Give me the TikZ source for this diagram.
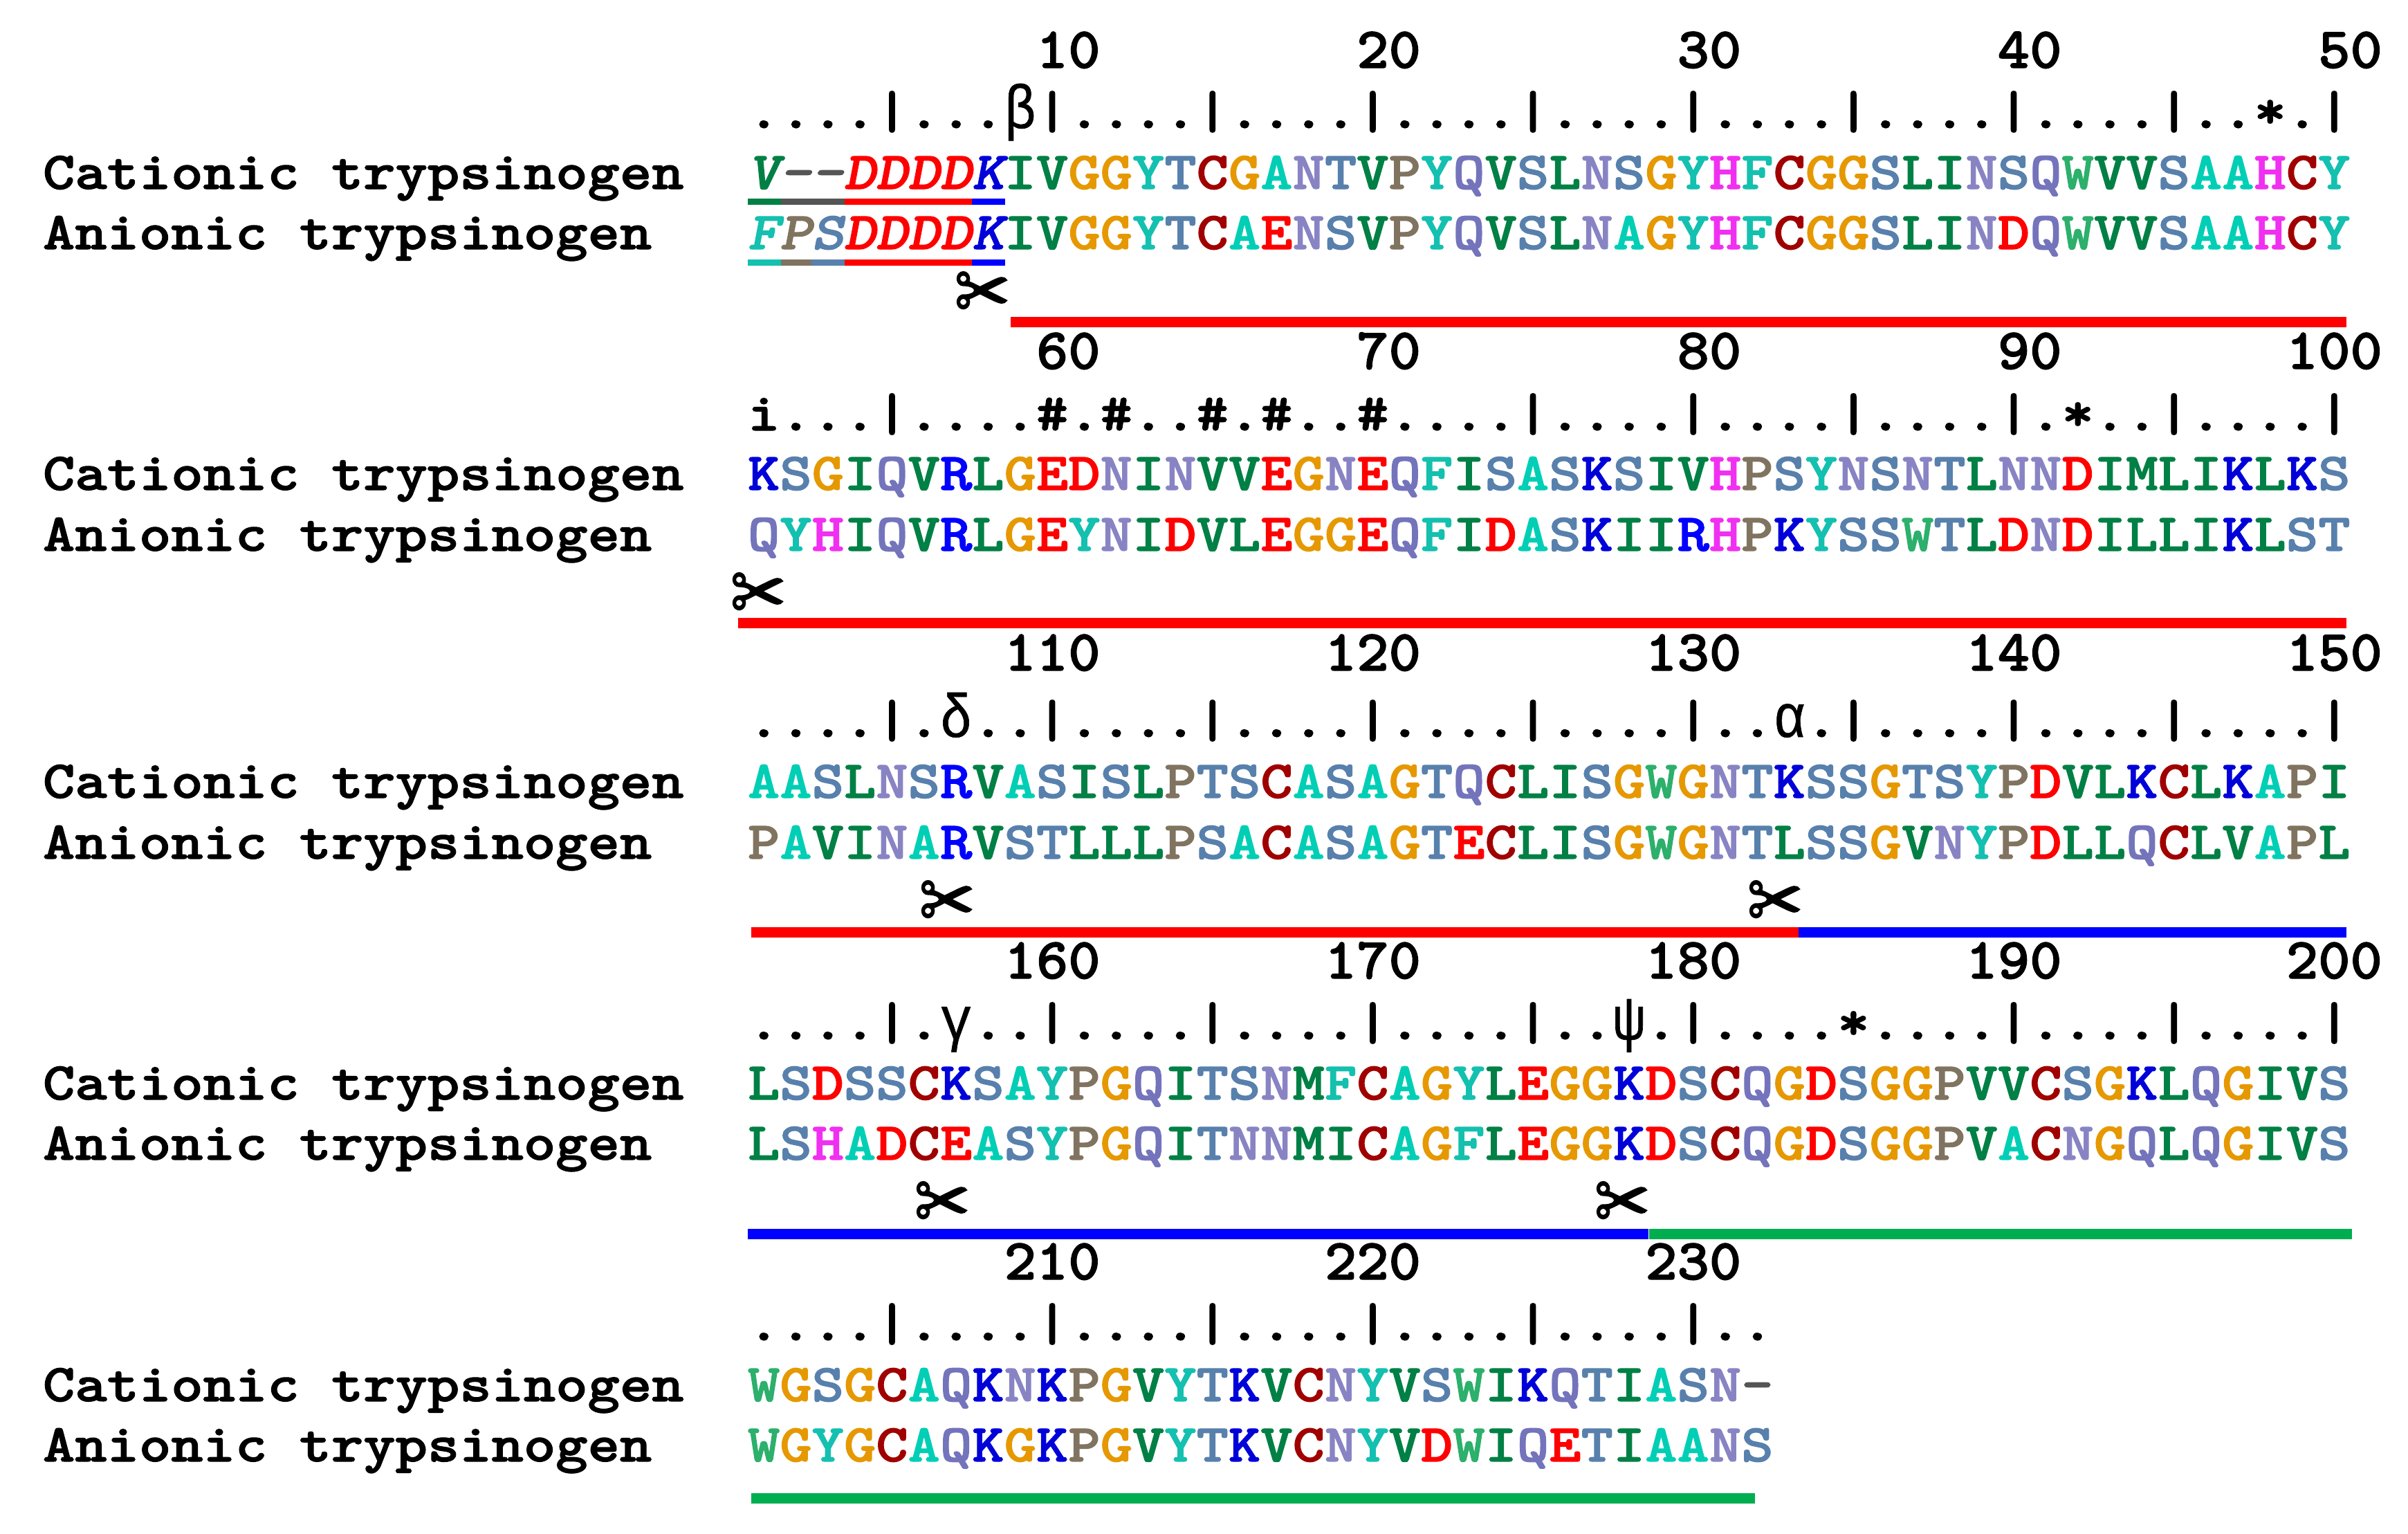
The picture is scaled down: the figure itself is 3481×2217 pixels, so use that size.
\documentclass[tikz,border=0pt]{standalone}
\usepackage{graphicx}
\usepackage{fontspec}
\newfontfamily\gkfont{Liberation Mono}[FakeBold=0.8]
\newfontfamily\scfont{DejaVu Sans}[FakeBold=1.6]
\newfontfamily\seqfont{lmmonolt10-bold}[Extension=.otf,FakeBold=1.5]
\newfontfamily\seqslfont{lmmonolt10-boldoblique}[Extension=.otf,FakeBold=1.5]
\definecolor{resA}{HTML}{00CFB5}
\definecolor{resC}{HTML}{A00000}
\definecolor{resD}{HTML}{FF0000}
\definecolor{resE}{HTML}{FF0000}
\definecolor{resF}{HTML}{14C0AE}
\definecolor{resG}{HTML}{E69800}
\definecolor{resH}{HTML}{F030F0}
\definecolor{resI}{HTML}{008045}
\definecolor{resK}{HTML}{0000D8}
\definecolor{resL}{HTML}{008045}
\definecolor{resM}{HTML}{008045}
\definecolor{resN}{HTML}{8884C4}
\definecolor{resP}{HTML}{807460}
\definecolor{resQ}{HTML}{7474BC}
\definecolor{resR}{HTML}{0000FF}
\definecolor{resS}{HTML}{5880AC}
\definecolor{resT}{HTML}{5880AC}
\definecolor{resV}{HTML}{008045}
\definecolor{resW}{HTML}{2CB06C}
\definecolor{resY}{HTML}{14C0B0}
\definecolor{res-}{HTML}{555555}
\definecolor{barred}{HTML}{FF0000}
\definecolor{barblue}{HTML}{0000FF}
\definecolor{bargreen}{HTML}{00AE50}
\newlength{\cw}\setlength{\cw}{40.425pt}
\def\aachar#1{\textcolor{res#1}{#1}}
\def\seqrun#1{\ifx#1\relax\else\aachar{#1}\expandafter\seqrun\fi}
\newcommand{\aaseq}[1]{\seqrun#1\relax}
\newcommand{\slseq}[1]{{\seqslfont\fontsize{77}{80}\selectfont\seqrun#1\relax}}
\newcommand{\stretched}[1]{\scalebox{1.1461}[1]{#1}}
\newcommand{\numstretched}[1]{\scalebox{1.1461}[1.09]{#1}}
\newcommand{\gk}[1]{\makebox[\cw][c]{\gkfont\fontsize{77}{80}\selectfont\scalebox{0.87}[1.15]{#1}}}
\tikzset{
  basefont/.style={inner sep=0pt,outer sep=0pt,font=\seqfont\fontsize{77}{80}\selectfont},
  seqline/.style={basefont,anchor=base west},
  numlabel/.style={basefont,anchor=base east},
  scissor/.style={inner sep=0pt,outer sep=0pt,anchor=center,font=\scfont\fontsize{92}{92}\selectfont}
}
\newcommand{\scis}{\scalebox{1.05}[1.3]{✂}}
\newcommand{\seqlab}[3]{\node[seqline] (#1) at (62,#2) {\stretched{#3}};}
\newcommand{\numrow}[3]{% y, base, count
  \foreach \k in {1,...,#3}{
    \pgfmathtruncatemacro\lab{#2+\k*10}
    \pgfmathsetmacro\xr{1081+46.33*(\k*10+1)}
    \node[numlabel] (n\lab) at (\xr,#1) {\numstretched{\lab}};
  }}
\begin{document}
\begin{tikzpicture}[x=1pt,y=-1pt]
\useasboundingbox (0,0) rectangle (3481,2217);
% block 1
\numrow{98}{0}{5}
\node[seqline] (r1) at (1081,185) {\stretched{....|...\gk{β}|....|....|....|....|....|....|....|..*.|}};
\seqlab{c1}{273}{Cationic trypsinogen}
\seqlab{a1}{360}{Anionic trypsinogen}
\node[seqline] (s1) at (1081,273) {\stretched{\slseq{V--DDDDK}\aaseq{IVGGYTCGANTVPYQVSLNSGYHFCGGSLINSQWVVSAAHCY}}};
\node[seqline] (t1) at (1081,360) {\stretched{\slseq{FPSDDDDK}\aaseq{IVGGYTCAENSVPYQVSLNAGYHFCGGSLINDQWVVSAAHCY}}};
\fill[resV] (1081,287) rectangle (1129,296);
\fill[res-] (1129,287) rectangle (1221,296);
\fill[barred] (1221,287) rectangle (1405,296);
\fill[barblue] (1405,287) rectangle (1453,296);
\fill[resF] (1081,375) rectangle (1129,384);
\fill[resP] (1129,375) rectangle (1173,384);
\fill[resS] (1173,375) rectangle (1221,384);
\fill[barred] (1221,375) rectangle (1405,384);
\fill[barblue] (1405,375) rectangle (1453,384);
\node[scissor] (x1) at (1420,428) {\scis};
\fill[barred] (1461,458) rectangle (3392,473);
% block 2
\numrow{533}{50}{5}
\node[seqline] (r2) at (1081,622) {\stretched{i...|....\#.\#..\#.\#..\#....|....|....|....|.*..|....|}};
\seqlab{c2}{708}{Cationic trypsinogen}
\seqlab{a2}{796}{Anionic trypsinogen}
\node[seqline] (s2) at (1081,708) {\stretched{\aaseq{KSGIQVRLGEDNINVVEGNEQFISASKSIVHPSYNSNTLNNDIMLIKLKS}}};
\node[seqline] (t2) at (1081,796) {\stretched{\aaseq{QYHIQVRLGEYNIDVLEGGEQFIDASKIIRHPKYSSWTLDNDILLIKLST}}};
\node[scissor] (x2) at (1096,863) {\scis};
\fill[barred] (1067,893) rectangle (3392,908);
% block 3
\numrow{969}{100}{5}
\node[seqline] (r3) at (1081,1065) {\stretched{....|.\gk{δ}..|....|....|....|....|..\gk{α}.|....|....|....|}};
\seqlab{c3}{1153}{Cationic trypsinogen}
\seqlab{a3}{1241}{Anionic trypsinogen}
\node[seqline] (s3) at (1081,1153) {\stretched{\aaseq{AASLNSRVASISLPTSCASAGTQCLISGWGNTKSSGTSYPDVLKCLKAPI}}};
\node[seqline] (t3) at (1081,1241) {\stretched{\aaseq{PAVINARVSTLLLPSACASAGTECLISGWGNTLSSGVNYPDLLQCLVAPL}}};
\node[scissor] (x3) at (1369,1308) {\scis};
\node[scissor] (x4) at (2566,1308) {\scis};
\fill[barred] (1086,1340) rectangle (2600,1355);
\fill[barblue] (2600,1340) rectangle (3392,1355);
% block 4
\numrow{1414}{150}{5}
\node[seqline] (r4) at (1081,1502) {\stretched{....|.\gk{γ}..|....|....|....|..\gk{ψ}.|....*....|....|....|}};
\seqlab{c4}{1589}{Cationic trypsinogen}
\seqlab{a4}{1676}{Anionic trypsinogen}
\node[seqline] (s4) at (1081,1589) {\stretched{\aaseq{LSDSSCKSAYPGQITSNMFCAGYLEGGKDSCQGDSGGPVVCSGKLQGIVS}}};
\node[seqline] (t4) at (1081,1676) {\stretched{\aaseq{LSHADCEASYPGQITNNMICAGFLEGGKDSCQGDSGGPVACNGQLQGIVS}}};
\node[scissor] (x5) at (1362,1743) {\scis};
\node[scissor] (x6) at (2345,1743) {\scis};
\fill[barblue] (1081,1776) rectangle (2383,1791);
\fill[bargreen] (2384,1776) rectangle (3400,1791);
% block 5
\numrow{1849}{200}{3}
\node[seqline] (r5) at (1081,1937) {\stretched{....|....|....|....|....|....|..}};
\seqlab{c5}{2025}{Cationic trypsinogen}
\seqlab{a5}{2112}{Anionic trypsinogen}
\node[seqline] (s5) at (1081,2025) {\stretched{\aaseq{WGSGCAQKNKPGVYTKVCNYVSWIKQTIASN-}}};
\node[seqline] (t5) at (1081,2112) {\stretched{\aaseq{WGYGCAQKGKPGVYTKVCNYVDWIQETIAANS}}};
\fill[bargreen] (1086,2158) rectangle (2537,2173);
\end{tikzpicture}
\end{document}
